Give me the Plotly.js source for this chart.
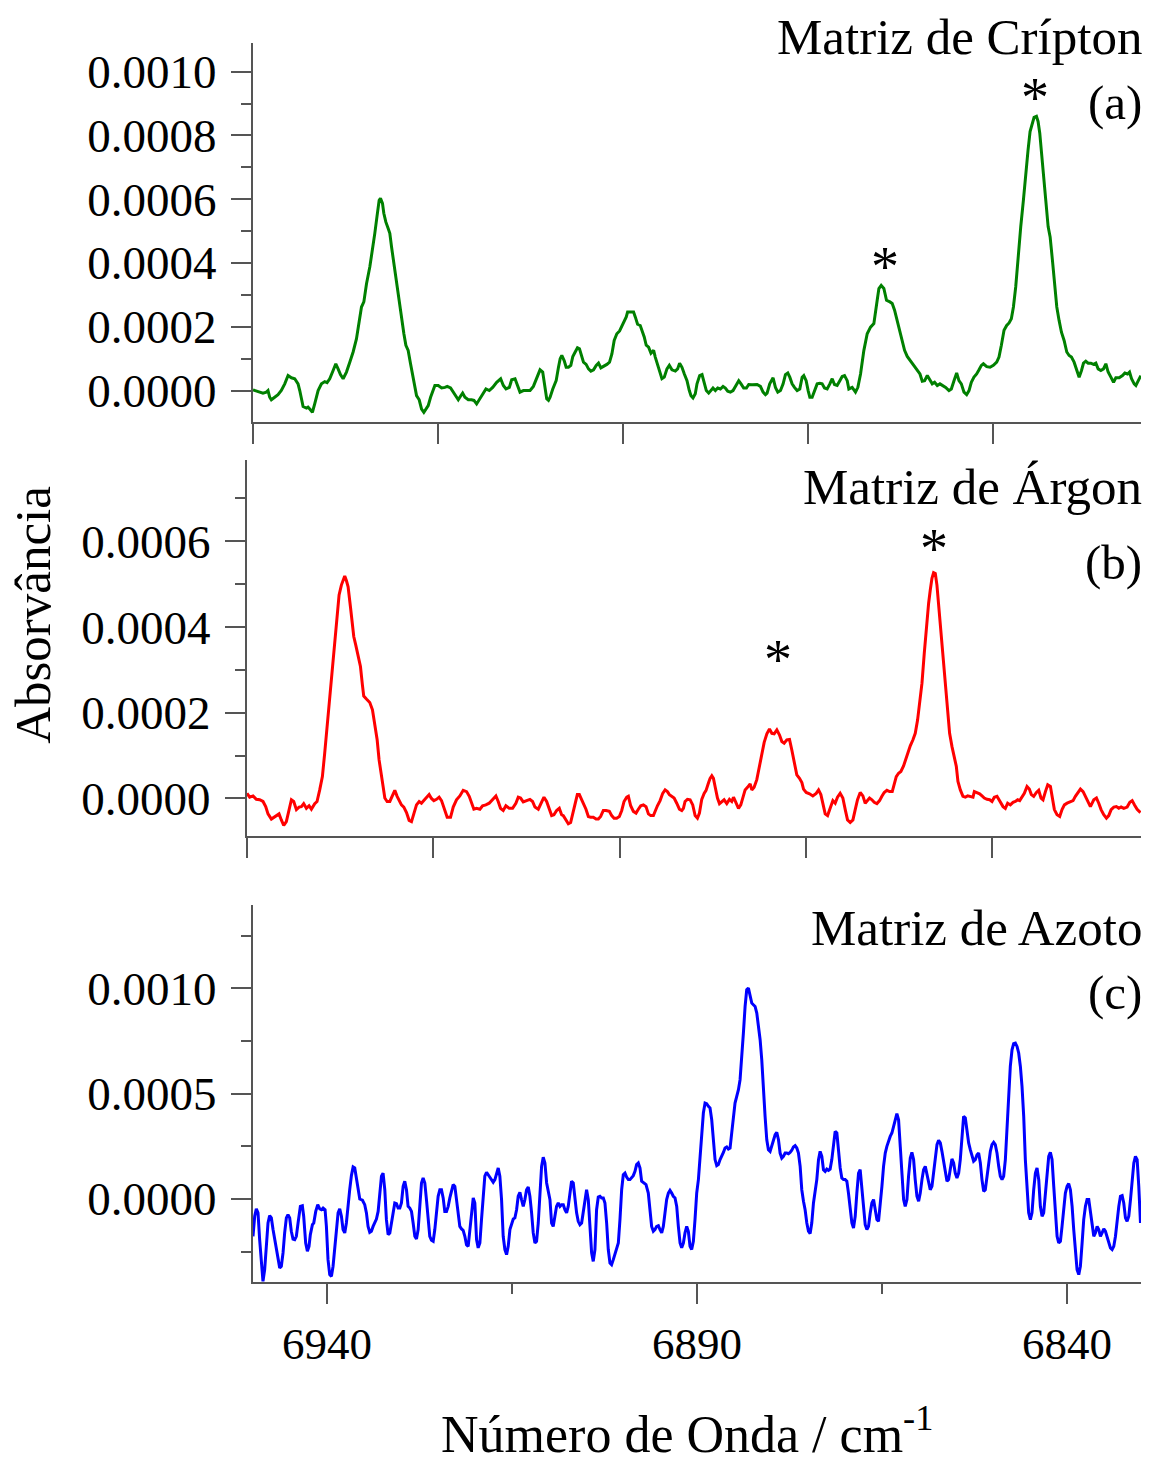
<!DOCTYPE html>
<html>
<head>
<meta charset="utf-8">
<script src="https://cdn.plot.ly/plotly-3.0.1.min.js"></script>
<style>html,body{margin:0;padding:0;background:#fff;}#chart{width:1152px;height:1465px;}</style>
</head>
<body>
<div id="chart"></div>
<script>
// ---------- DATA ----------
const kryptonWavenumber = [6950.00,6949.32,6948.65,6948.20,6947.97,6947.74,6947.52,6947.07,6946.62,6946.17,6945.71,6945.26,6944.81,6944.36,6943.91,6943.68,6943.23,6942.78,6942.56,6942.33,6941.97,6941.66,6941.20,6940.75,6940.30,6939.99,6939.63,6939.17,6938.81,6938.50,6938.18,6937.82,6937.37,6936.92,6936.47,6936.02,6935.57,6935.34,6935.02,6934.66,6934.21,6933.85,6933.54,6933.22,6932.95,6932.77,6932.50,6932.32,6932.05,6931.73,6931.51,6931.28,6930.97,6930.60,6930.24,6929.93,6929.61,6929.34,6929.03,6928.71,6928.44,6928.12,6927.90,6927.54,6927.22,6926.91,6926.64,6926.32,6926.00,6925.73,6925.42,6924.97,6924.51,6924.06,6923.75,6923.30,6922.94,6922.58,6922.26,6921.94,6921.67,6921.36,6920.91,6920.46,6920.14,6919.78,6919.42,6918.97,6918.52,6918.07,6917.61,6917.07,6916.53,6916.17,6915.81,6915.36,6915.04,6914.59,6914.28,6913.92,6913.46,6912.56,6912.11,6911.66,6911.21,6910.85,6910.53,6910.31,
6910.07,6909.85,6909.49,6909.03,6908.72,6908.49,6908.27,6907.95,6907.68,6907.37,6907.05,6906.78,6906.46,6906.15,6905.88,6905.56,6905.34,6904.98,6904.66,6904.34,6903.98,6903.62,6903.31,6902.99,6902.63,6902.18,6901.82,6901.50,6901.19,6900.83,6900.46,6900.15,6899.83,6899.56,6899.38,6899.02,6898.57,6898.34,6898.03,6897.67,6897.44,6897.13,6896.86,6896.54,6896.22,6895.86,6895.64,6895.32,6895.05,6894.74,6894.42,6894.06,6893.74,6893.38,6892.93,6892.62,6892.35,6892.03,6891.71,6891.35,6891.04,6890.81,6890.54,6890.23,6890.00,6889.64,6889.32,6889.10,6888.74,6888.42,6888.11,6887.84,6887.52,6887.20,6886.84,6886.48,6886.17,6885.85,6885.49,6885.13,6884.81,6884.36,6884.05,6883.69,6883.32,6883.01,6882.56,6881.88,6881.43,6881.07,6880.75,6880.53,6880.17,6879.72,6879.40,6879.08,6878.72,6878.36,6878.05,6877.73,6877.46,6877.15,6876.83,6876.47,6876.11,6875.79,6875.57,6875.25,6874.98,6874.75,6874.44,6874.12,6873.76,6873.40,6873.09,6872.77,6872.41,6872.05,6871.73,6871.42,6871.06,6870.70,6870.38,6870.06,6869.70,
6869.48,6869.03,6868.58,6868.26,6867.90,6867.45,6867.00,6866.55,6866.10,6865.87,6865.65,6865.42,6865.11,6864.75,6864.39,6863.93,6863.62,6863.30,6862.94,6862.58,6862.27,6861.95,6861.59,6861.23,6860.91,6860.60,6860.24,6859.87,6859.56,6859.24,6858.88,6858.52,6858.21,6857.89,6857.53,6857.17,6856.85,6856.40,6855.95,6855.63,6855.27,6854.91,6854.60,6854.28,6853.92,6853.56,6853.24,6852.93,6852.57,6852.21,6851.89,6851.57,6851.30,6850.85,6850.40,6849.95,6849.50,6849.19,6848.87,6848.51,6848.15,6847.83,6847.52,6847.24,6846.93,6846.61,6846.25,6845.89,6845.58,6845.26,6844.99,6844.68,6844.45,6844.13,6843.91,6843.68,6843.46,6843.19,6842.87,6842.55,6842.28,6841.97,6841.65,6841.38,6841.07,6840.75,6840.39,6840.03,6839.71,6839.40,6839.04,6838.68,6838.36,6838.04,6837.77,6837.46,6837.14,6836.78,6836.42,6836.10,6835.79,6835.43,6835.07,6834.75,6834.44,6834.07,6833.71,6833.40,6832.95,6832.50,6832.18,6831.82,6831.55,6831.28,6830.92,6830.69,6830.38,6830.02];
const kryptonAbsorbance = [0.02e-4,-0.02e-4,-0.08e-4,-0.05e-4,0,-0.21e-4,-0.29e-4,-0.21e-4,-0.13e-4,0,0.21e-4,0.47e-4,0.40e-4,0.37e-4,0.21e-4,0,-0.50e-4,-0.55e-4,-0.52e-4,-0.58e-4,-0.68e-4,-0.42e-4,0,0.21e-4,0.28e-4,0.25e-4,0.37e-4,0.63e-4,0.84e-4,0.68e-4,0.50e-4,0.37e-4,0.58e-4,0.89e-4,1.21e-4,1.62e-4,2.20e-4,2.62e-4,2.78e-4,3.35e-4,3.88e-4,4.40e-4,4.93e-4,5.50e-4,5.97e-4,6.03e-4,5.87e-4,5.56e-4,5.29e-4,5.08e-4,4.93e-4,4.51e-4,3.98e-4,3.35e-4,2.83e-4,2.25e-4,1.78e-4,1.42e-4,1.26e-4,0.84e-4,0.52e-4,0.10e-4,-0.16e-4,-0.29e-4,-0.58e-4,-0.68e-4,-0.58e-4,-0.47e-4,-0.21e-4,0,0.16e-4,0.16e-4,0.08e-4,0.10e-4,0.13e-4,0.08e-4,-0.05e-4,-0.21e-4,-0.29e-4,-0.17e-4,-0.08e-4,-0.21e-4,-0.29e-4,-0.29e-4,-0.31e-4,-0.42e-4,-0.29e-4,-0.10e-4,0.05e-4,0,0.10e-4,0.26e-4,0.37e-4,0.16e-4,0.05e-4,0.10e-4,0.34e-4,0.37e-4,0.16e-4,-0.05e-4,0,0,0.13e-4,0.42e-4,0.65e-4,0.58e-4,0,-0.26e-4,
-0.31e-4,-0.21e-4,0.05e-4,0.31e-4,0.73e-4,1.00e-4,1.10e-4,0.94e-4,0.73e-4,0.73e-4,0.79e-4,1.07e-4,1.21e-4,1.34e-4,1.31e-4,1.10e-4,0.89e-4,0.82e-4,0.68e-4,0.61e-4,0.65e-4,0.79e-4,0.86e-4,0.71e-4,0.75e-4,0.82e-4,0.89e-4,1.15e-4,1.57e-4,1.78e-4,1.87e-4,2.01e-4,2.15e-4,2.31e-4,2.46e-4,2.46e-4,2.46e-4,2.31e-4,2.08e-4,2.04e-4,1.89e-4,1.68e-4,1.42e-4,1.36e-4,1.17e-4,1.26e-4,1.05e-4,0.79e-4,0.58e-4,0.37e-4,0.42e-4,0.68e-4,0.79e-4,0.65e-4,0.61e-4,0.68e-4,0.86e-4,0.73e-4,0.52e-4,0.31e-4,0,-0.16e-4,-0.23e-4,-0.10e-4,0.21e-4,0.47e-4,0.50e-4,0.31e-4,0,-0.08e-4,0,0.08e-4,0,0.08e-4,0.05e-4,0.13e-4,0.08e-4,-0.02e-4,-0.05e-4,0,0.13e-4,0.31e-4,0.21e-4,0.08e-4,0.08e-4,0.19e-4,0.18e-4,0.19e-4,0.13e-4,-0.05e-4,-0.13e-4,-0.08e-4,0.21e-4,0.40e-4,0.10e-4,-0.05e-4,0,0.21e-4,0.50e-4,0.55e-4,0.42e-4,0.21e-4,0.10e-4,0,0.05e-4,0.42e-4,0.47e-4,0.31e-4,0,-0.21e-4,-0.21e-4,0,0.21e-4,0.23e-4,0.21e-4,0.08e-4,0.05e-4,0.21e-4,0.37e-4,0.19e-4,0.16e-4,0.31e-4,0.44e-4,0.47e-4,0.31e-4,
0.05e-4,0.10e-4,-0.05e-4,0.10e-4,0.52e-4,1.26e-4,1.78e-4,1.99e-4,2.10e-4,2.41e-4,2.83e-4,3.20e-4,3.30e-4,3.20e-4,2.83e-4,2.78e-4,2.73e-4,2.52e-4,2.20e-4,1.89e-4,1.57e-4,1.26e-4,1.07e-4,0.96e-4,0.84e-4,0.73e-4,0.63e-4,0.52e-4,0.29e-4,0.31e-4,0.47e-4,0.31e-4,0.21e-4,0.26e-4,0.16e-4,0.21e-4,0.16e-4,0.10e-4,0,0.05e-4,0.31e-4,0.55e-4,0.31e-4,0.21e-4,-0.05e-4,-0.13e-4,0,0.26e-4,0.42e-4,0.52e-4,0.65e-4,0.79e-4,0.84e-4,0.75e-4,0.73e-4,0.79e-4,0.89e-4,1.05e-4,1.42e-4,1.89e-4,2.04e-4,2.12e-4,2.25e-4,2.62e-4,3.25e-4,4.19e-4,5.14e-4,5.97e-4,6.81e-4,7.55e-4,8.12e-4,8.44e-4,8.57e-4,8.60e-4,8.44e-4,8.07e-4,7.55e-4,6.81e-4,5.97e-4,5.14e-4,4.82e-4,4.09e-4,3.25e-4,2.62e-4,2.20e-4,1.83e-4,1.57e-4,1.21e-4,1.10e-4,1.05e-4,0.89e-4,0.63e-4,0.42e-4,0.63e-4,0.86e-4,0.92e-4,0.86e-4,0.86e-4,0.82e-4,0.86e-4,0.68e-4,0.63e-4,0.68e-4,0.84e-4,0.58e-4,0.42e-4,0.26e-4,0.40e-4,0.40e-4,0.47e-4,0.55e-4,0.52e-4,0.58e-4,0.37e-4,0.21e-4,0.16e-4,0.31e-4,0.47e-4];

const argonWavenumber = [6950.00,6949.64,6949.19,6948.75,6948.30,6947.85,6947.49,6947.18,6946.73,6946.42,6946.06,6945.70,6945.39,6945.07,6944.72,6944.36,6944.04,6943.73,6943.37,6943.01,6942.70,6942.39,6942.03,6941.67,6941.36,6940.91,6940.60,6940.24,6939.88,6939.57,6939.25,6938.89,6938.54,6938.22,6937.91,6937.64,6937.33,6937.10,6936.88,6936.65,6936.43,6936.12,6935.85,6935.67,6935.40,6935.09,6934.77,6934.51,6934.33,6933.97,6933.52,6933.16,6932.85,6932.53,6932.27,6931.95,6931.73,6931.50,6931.19,6930.83,6930.47,6930.16,6929.85,6929.58,6929.27,6928.95,6928.59,6928.24,6927.92,6927.61,6927.25,6926.89,6926.58,6926.27,6925.91,6925.55,6925.24,6924.92,6924.56,6924.21,6923.89,6923.44,6923.13,6922.68,6922.32,6921.88,6921.43,6920.98,6920.53,6920.17,6919.86,6919.55,6919.19,6918.74,6918.38,6917.94,6917.49,6917.04,6916.59,6916.28,6915.97,6915.61,6915.25,6914.80,6914.35,6913.91,6913.59,6913.28,6912.92,6912.47,6912.02,6911.67,6911.35,6910.90,
6910.45,6910.14,6909.78,6909.42,6909.11,6908.80,6908.44,6908.08,6907.77,6907.54,6907.18,6906.87,6906.56,6906.29,6905.97,6905.66,6905.39,6905.08,6904.77,6904.50,6904.18,6903.87,6903.51,6903.15,6902.84,6902.53,6902.17,6901.81,6901.36,6901.05,6900.73,6900.38,6900.02,6899.70,6899.39,6899.03,6898.81,6898.50,6898.14,6897.78,6897.47,6897.15,6896.79,6896.44,6896.12,6895.81,6895.45,6895.23,6894.91,6894.55,6894.20,6893.88,6893.57,6893.30,6892.99,6892.67,6892.32,6891.96,6891.64,6891.42,6891.20,6890.88,6890.52,6890.17,6889.85,6889.54,6889.27,6888.96,6888.64,6888.38,6888.06,6887.84,6887.61,6887.39,6887.17,6886.85,6886.58,6886.27,6885.96,6885.60,6885.24,6884.93,6884.70,6884.34,6884.03,6883.72,6883.36,6883.14,6882.82,6882.46,6882.24,6881.93,6881.57,6881.21,6880.90,6880.58,6880.22,6879.87,6879.55,6879.24,6878.88,6878.52,6878.21,6877.90,6877.54,6877.18,6876.87,6876.55,6876.20,6875.84,6875.52,6875.30,6874.94,6874.49,6874.05,6873.60,6873.28,6872.97,6872.70,6872.39,6872.07,6871.72,6871.36,6871.05,6870.74,6870.38,
6870.02,6869.70,6869.39,6869.03,6868.67,6868.36,6868.05,6867.69,6867.33,6867.02,6866.70,6866.44,6866.12,6865.81,6865.45,6865.09,6864.78,6864.47,6864.11,6863.75,6863.39,6863.12,6862.85,6862.54,6862.23,6861.87,6861.51,6861.20,6860.97,6860.61,6860.30,6859.99,6859.72,6859.40,6859.09,6858.82,6858.51,6858.29,6858.06,6857.84,6857.61,6857.39,6857.17,6856.85,6856.58,6856.27,6855.96,6855.69,6855.37,6855.06,6854.79,6854.57,6854.25,6853.90,6853.58,6853.27,6852.91,6852.55,6852.37,6852.02,6851.66,6851.34,6851.03,6850.67,6850.31,6850.00,6849.69,6849.33,6849.11,6848.88,6848.52,6848.21,6847.90,6847.54,6847.18,6846.87,6846.55,6846.28,6845.97,6845.66,6845.30,6844.99,6844.72,6844.40,6844.04,6843.73,6843.42,6843.15,6842.83,6842.52,6842.16,6841.94,6841.63,6841.27,6840.91,6840.60,6840.28,6839.92,6839.57,6839.12,6838.81,6838.49,6838.13,6837.77,6837.46,6837.15,6836.79,6836.34,6835.98,6835.67,6835.36,6835.00,6834.64,6834.33,6834.01,6833.65,6833.30,6832.98,6832.67,6832.31,6831.86,6831.50,6831.18,6830.87,6830.52,6830.07];
const argonAbsorbance = [0.12e-4,0.03e-4,0.06e-4,-0.02e-4,-0.03e-4,-0.07e-4,-0.19e-4,-0.36e-4,-0.48e-4,-0.44e-4,-0.40e-4,-0.36e-4,-0.50e-4,-0.63e-4,-0.54e-4,-0.26e-4,-0.03e-4,-0.07e-4,-0.26e-4,-0.20e-4,-0.19e-4,-0.12e-4,-0.23e-4,-0.17e-4,-0.25e-4,-0.12e-4,-0.07e-4,0.20e-4,0.51e-4,1.06e-4,1.68e-4,2.30e-4,3.00e-4,3.70e-4,4.32e-4,4.75e-4,4.98e-4,5.10e-4,5.19e-4,5.08e-4,4.94e-4,4.48e-4,4.05e-4,3.78e-4,3.58e-4,3.31e-4,3.08e-4,2.65e-4,2.39e-4,2.32e-4,2.24e-4,2.07e-4,1.76e-4,1.37e-4,0.90e-4,0.59e-4,0.28e-4,0.01e-4,-0.07e-4,-0.07e-4,0.06e-4,0.19e-4,0.05e-4,-0.05e-4,-0.15e-4,-0.20e-4,-0.33e-4,-0.51e-4,-0.54e-4,-0.36e-4,-0.15e-4,-0.07e-4,-0.11e-4,-0.05e-4,0.03e-4,0.09e-4,0,-0.05e-4,-0.02e-4,0.03e-4,-0.05e-4,-0.30e-4,-0.44e-4,-0.44e-4,-0.20e-4,-0.03e-4,0.06e-4,0.19e-4,0.16e-4,0.05e-4,-0.11e-4,-0.25e-4,-0.23e-4,-0.25e-4,-0.17e-4,-0.15e-4,-0.11e-4,-0.03e-4,0.06e-4,-0.07e-4,-0.23e-4,-0.28e-4,-0.17e-4,-0.23e-4,-0.23e-4,-0.11e-4,0.03e-4,0.01e-4,-0.08e-4,-0.05e-4,-0.02e-4,-0.07e-4,-0.20e-4,-0.25e-4,
-0.07e-4,0.03e-4,-0.07e-4,-0.26e-4,-0.40e-4,-0.38e-4,-0.28e-4,-0.23e-4,-0.38e-4,-0.40e-4,-0.50e-4,-0.59e-4,-0.56e-4,-0.36e-4,-0.11e-4,0.09e-4,0.09e-4,-0.03e-4,-0.17e-4,-0.25e-4,-0.42e-4,-0.44e-4,-0.44e-4,-0.48e-4,-0.48e-4,-0.42e-4,-0.28e-4,-0.28e-4,-0.30e-4,-0.40e-4,-0.46e-4,-0.46e-4,-0.42e-4,-0.28e-4,-0.07e-4,0.03e-4,0.05e-4,-0.17e-4,-0.30e-4,-0.34e-4,-0.25e-4,-0.17e-4,-0.15e-4,-0.19e-4,-0.36e-4,-0.40e-4,-0.40e-4,-0.30e-4,-0.17e-4,-0.05e-4,0.12e-4,0.20e-4,0.16e-4,0.09e-4,0.06e-4,0.01e-4,-0.11e-4,-0.25e-4,-0.28e-4,-0.23e-4,-0.07e-4,-0.02e-4,-0.03e-4,-0.15e-4,-0.40e-4,-0.46e-4,-0.34e-4,-0.02e-4,0.12e-4,0.19e-4,0.36e-4,0.47e-4,0.53e-4,0.47e-4,0.28e-4,0.01e-4,-0.12e-4,-0.07e-4,-0.03e-4,-0.12e-4,-0.02e-4,-0.07e-4,0.03e-4,-0.11e-4,-0.23e-4,-0.15e-4,0.06e-4,0.20e-4,0.26e-4,0.34e-4,0.20e-4,0.26e-4,0.44e-4,0.75e-4,1.06e-4,1.31e-4,1.51e-4,1.62e-4,1.52e-4,1.51e-4,1.60e-4,1.48e-4,1.33e-4,1.29e-4,1.37e-4,1.38e-4,1.13e-4,0.86e-4,0.55e-4,0.47e-4,0.37e-4,0.22e-4,0.14e-4,0.11e-4,0.06e-4,0.12e-4,0.20e-4,0.09e-4,-0.12e-4,-0.36e-4,-0.40e-4,-0.23e-4,-0.05e-4,-0.11e-4,0.03e-4,0.12e-4,
0.01e-4,-0.26e-4,-0.50e-4,-0.56e-4,-0.50e-4,-0.26e-4,-0.03e-4,0.14e-4,0.06e-4,-0.11e-4,-0.03e-4,0.01e-4,-0.03e-4,-0.09e-4,-0.12e-4,-0.05e-4,0.05e-4,0.14e-4,0.19e-4,0.16e-4,0.16e-4,0.36e-4,0.51e-4,0.59e-4,0.63e-4,0.76e-4,0.94e-4,1.13e-4,1.23e-4,1.37e-4,1.52e-4,1.83e-4,2.18e-4,2.69e-4,3.39e-4,4.01e-4,4.55e-4,4.86e-4,5.14e-4,5.27e-4,5.25e-4,4.98e-4,4.55e-4,3.93e-4,3.23e-4,2.61e-4,2.07e-4,1.52e-4,1.21e-4,0.98e-4,0.75e-4,0.40e-4,0.20e-4,0.05e-4,0.03e-4,0.06e-4,0.05e-4,0.03e-4,0.16e-4,0.14e-4,0.11e-4,0.06e-4,0.01e-4,-0.02e-4,-0.03e-4,-0.07e-4,0.03e-4,0.05e-4,-0.02e-4,-0.11e-4,-0.19e-4,-0.23e-4,-0.11e-4,-0.15e-4,-0.09e-4,-0.07e-4,-0.03e-4,-0.05e-4,0.05e-4,0.12e-4,0.28e-4,0.22e-4,0.09e-4,0.05e-4,0.14e-4,0.19e-4,0.01e-4,-0.03e-4,0.16e-4,0.32e-4,0.28e-4,0.01e-4,-0.26e-4,-0.38e-4,-0.42e-4,-0.26e-4,-0.15e-4,-0.11e-4,-0.09e-4,-0.05e-4,0.05e-4,0.14e-4,0.22e-4,0.16e-4,0.05e-4,-0.07e-4,-0.19e-4,-0.03e-4,0.01e-4,-0.11e-4,-0.26e-4,-0.38e-4,-0.46e-4,-0.40e-4,-0.26e-4,-0.20e-4,-0.19e-4,-0.23e-4,-0.20e-4,-0.23e-4,-0.20e-4,-0.09e-4,-0.05e-4,-0.15e-4,-0.25e-4,-0.33e-4];

const nitrogenWavenumber = [6950.00,6949.77,6949.55,6949.32,6949.10,6948.87,6948.65,6948.42,6948.20,6947.97,6947.75,6947.52,6947.29,6947.07,6946.84,6946.62,6946.39,6946.17,6945.94,6945.72,6945.49,6945.27,6945.04,6944.82,6944.59,6944.36,6944.14,6943.91,6943.60,6943.33,6943.15,6942.88,6942.65,6942.43,6942.25,6941.97,6941.79,6941.52,6941.25,6940.98,6940.76,6940.53,6940.26,6940.08,6939.86,6939.63,6939.40,6939.18,6938.95,6938.73,6938.50,6938.28,6938.05,6937.83,6937.60,6937.38,6937.15,6936.93,6936.70,6936.47,6936.25,6936.02,6935.80,6935.57,6935.21,6934.90,6934.67,6934.45,6934.22,6934.00,6933.77,6933.54,6933.32,6933.09,6932.87,6932.64,6932.42,6932.19,6931.97,6931.74,6931.51,6931.29,6931.06,6930.84,6930.61,6930.39,6930.16,6929.94,6929.71,6929.49,6929.26,6929.04,6928.81,6928.58,6928.36,6928.13,6927.91,6927.68,6927.46,6927.23,6927.01,6926.78,6926.56,6926.33,6926.11,6925.88,6925.65,6925.43,6925.20,6924.98,6924.75,6924.53,6924.30,6924.08,6923.85,6923.62,6923.40,6923.17,6922.95,6922.72,6922.50,6922.27,6922.05,6921.82,6921.60,6921.37,6921.15,6920.92,6920.69,6920.47,6920.24,6920.02,6919.79,6919.57,6919.34,6919.12,6918.89,6918.67,6918.44,6918.21,6917.99,6917.76,6917.54,6917.31,6917.09,6916.86,6916.64,6916.41,6916.19,6915.96,6915.73,6915.51,6915.28,6915.06,6914.83,6914.61,6914.38,6914.16,6913.93,6913.71,6913.48,6913.26,6913.03,6912.80,6912.58,6912.35,6912.13,6911.90,6911.68,6911.45,6911.23,6911.00,6910.78,6910.55,6910.32,6910.10,6909.87,
6909.65,6909.43,6909.20,6908.98,6908.75,6908.52,6908.30,6908.07,6907.85,6907.62,6907.40,6907.17,6906.95,6906.72,6906.50,6906.27,6906.05,6905.82,6905.59,6905.37,6905.14,6904.92,6904.69,6904.47,6904.24,6904.02,6903.79,6903.57,6903.34,6903.11,6902.89,6902.66,6902.44,6902.21,6901.99,6901.76,6901.54,6901.31,6901.09,6900.86,6900.63,6900.41,6900.18,6899.96,6899.73,6899.51,6899.28,6899.06,6898.83,6898.61,6898.38,6898.16,6897.93,6897.70,6897.48,6897.25,6896.89,6896.58,6896.35,6896.13,6895.90,6895.68,6895.45,6895.22,6895.00,6894.77,6894.55,6894.32,6894.10,6893.87,6893.65,6893.42,6893.20,6892.97,6892.74,6892.52,6892.29,6892.07,6891.84,6891.62,6891.39,6891.17,6890.94,6890.72,6890.49,6890.27,6890.04,6889.81,6889.59,6889.36,6889.14,6888.91,6888.69,6888.46,6888.24,6888.01,6887.79,6887.56,6887.33,6887.11,6886.88,6886.66,6886.43,6886.21,6885.98,6885.76,6885.53,6885.31,6885.08,6884.86,6884.63,6884.40,6884.18,6883.95,6883.73,6883.50,6883.28,6883.05,6882.83,6882.60,6882.38,6882.15,6881.92,6881.70,6881.47,6881.25,6881.02,6880.80,6880.57,6880.35,6880.12,6879.90,6879.67,6879.44,6879.22,6878.99,6878.77,6878.54,6878.32,6878.09,6877.87,6877.64,6877.42,6877.19,6876.97,6876.74,6876.51,6876.29,6876.06,6875.84,6875.61,6875.39,6875.16,6874.94,6874.71,6874.49,6874.26,6874.03,6873.81,6873.58,6873.36,6873.13,6872.91,6872.68,6872.46,6872.23,6872.01,6871.78,6871.55,6871.33,6871.10,6870.88,6870.65,6870.43,6870.20,6869.98,6869.75,6869.53,6869.30,
6869.07,6868.85,6868.62,6868.40,6868.17,6867.95,6867.72,6867.49,6867.27,6867.04,6866.82,6866.59,6866.37,6866.14,6865.92,6865.69,6865.47,6865.24,6865.01,6864.79,6864.56,6864.34,6864.11,6863.89,6863.66,6863.44,6863.21,6862.99,6862.76,6862.53,6862.31,6862.08,6861.86,6861.63,6861.41,6861.18,6860.96,6860.73,6860.51,6860.28,6860.05,6859.83,6859.60,6859.38,6859.15,6858.93,6858.70,6858.48,6858.25,6858.03,6857.80,6857.57,6857.35,6857.12,6856.90,6856.67,6856.45,6856.22,6856.00,6855.77,6855.55,6855.32,6855.10,6854.87,6854.64,6854.42,6854.19,6853.97,6853.74,6853.52,6853.29,6853.07,6852.84,6852.62,6852.39,6852.16,6851.94,6851.71,6851.49,6851.26,6851.04,6850.81,6850.59,6850.36,6850.14,6849.91,6849.69,6849.46,6849.23,6849.01,6848.78,6848.56,6848.33,6848.11,6847.88,6847.66,6847.43,6847.21,6846.98,6846.75,6846.53,6846.30,6846.08,6845.85,6845.63,6845.40,6845.18,6844.95,6844.73,6844.50,6844.27,6844.05,6843.82,6843.60,6843.37,6843.15,6842.92,6842.70,6842.47,6842.25,6842.02,6841.79,6841.57,6841.34,6841.12,6840.89,6840.67,6840.44,6840.22,6839.99,6839.77,6839.54,6839.31,6839.09,6838.86,6838.64,6838.41,6838.19,6837.96,6837.74,6837.51,6837.29,6837.06,6836.83,6836.61,6836.38,6836.16,6835.93,6835.71,6835.48,6835.26,6835.03,6834.81,6834.58,6834.36,6834.13,6833.90,6833.68,6833.45,6833.23,6833.00,6832.78,6832.55,6832.33,6832.10,6831.88,6831.65,6831.42,6831.20,6830.97,6830.75,6830.52,6830.30,6830.07];
const nitrogenAbsorbance = [-1.77e-4,-0.82e-4,-0.47e-4,-0.66e-4,-1.93e-4,-3.04e-4,-3.91e-4,-3.35e-4,-2.09e-4,-1.14e-4,-0.79e-4,-0.90e-4,-1.45e-4,-1.93e-4,-2.40e-4,-2.96e-4,-3.27e-4,-3.19e-4,-2.56e-4,-1.61e-4,-0.90e-4,-0.74e-4,-0.90e-4,-1.53e-4,-1.90e-4,-1.93e-4,-1.77e-4,-1.14e-4,-0.35e-4,-0.32e-4,-0.82e-4,-2.09e-4,-2.48e-4,-2.25e-4,-1.69e-4,-1.22e-4,-1.14e-4,-0.59e-4,-0.27e-4,-0.47e-4,-0.51e-4,-0.43e-4,-0.51e-4,-1.30e-4,-2.88e-4,-3.59e-4,-3.67e-4,-3.19e-4,-2.40e-4,-1.61e-4,-0.66e-4,-0.47e-4,-0.82e-4,-1.45e-4,-1.61e-4,-1.14e-4,-0.19e-4,0.44e-4,1.11e-4,1.52e-4,1.47e-4,0.92e-4,0.44e-4,0,-0.06e-4,-0.27e-4,-0.66e-4,-1.30e-4,-1.58e-4,-1.53e-4,-1.30e-4,-1.14e-4,-0.95e-4,-0.59e-4,0.36e-4,1.08e-4,1.23e-4,0.44e-4,-0.98e-4,-1.69e-4,-1.61e-4,-1.14e-4,-0.66e-4,-0.19e-4,-0.22e-4,-0.43e-4,-0.43e-4,-0.19e-4,0.60e-4,0.84e-4,0.44e-4,-0.35e-4,-0.43e-4,-0.59e-4,-1.14e-4,-1.77e-4,-1.90e-4,-1.45e-4,-0.35e-4,0.76e-4,1.00e-4,0.76e-4,-0.03e-4,-0.98e-4,-1.77e-4,-1.96e-4,-2.01e-4,-1.45e-4,-0.66e-4,0.13e-4,0.44e-4,0.44e-4,0.05e-4,-0.59e-4,-0.59e-4,-0.35e-4,0.05e-4,0.36e-4,0.68e-4,0.60e-4,-0.03e-4,-0.90e-4,-1.30e-4,-1.42e-4,-1.49e-4,-1.77e-4,-2.17e-4,-2.25e-4,-1.45e-4,-0.66e-4,0.05e-4,-0.19e-4,-1.93e-4,-2.32e-4,-2.09e-4,-0.98e-4,0.28e-4,1.08e-4,1.27e-4,1.15e-4,1.04e-4,0.92e-4,0.79e-4,0.92e-4,1.23e-4,1.47e-4,1.08e-4,-0.03e-4,-1.77e-4,-2.40e-4,-2.64e-4,-2.25e-4,-1.45e-4,-1.14e-4,-0.95e-4,-0.90e-4,-0.51e-4,0.13e-4,0.32e-4,-0.03e-4,-0.35e-4,-0.03e-4,0.44e-4,0.57e-4,0.13e-4,-0.66e-4,-1.61e-4,-2.09e-4,-2.01e-4,-1.14e-4,0.28e-4,1.55e-4,1.98e-4,1.71e-4,0.76e-4,0.44e-4,-0.03e-4,
-1.14e-4,-1.30e-4,-0.82e-4,-0.35e-4,-0.19e-4,-0.35e-4,-0.27e-4,-0.27e-4,-0.51e-4,-0.66e-4,-0.35e-4,0.44e-4,0.84e-4,0.76e-4,-0.03e-4,-0.66e-4,-1.06e-4,-1.22e-4,-1.14e-4,-0.59e-4,0.13e-4,0.44e-4,-0.03e-4,-1.30e-4,-2.56e-4,-2.96e-4,-2.40e-4,-0.51e-4,0.09e-4,0.13e-4,0.05e-4,0.05e-4,-0.19e-4,-1.14e-4,-2.40e-4,-3.04e-4,-3.12e-4,-2.88e-4,-2.64e-4,-2.40e-4,-2.09e-4,-0.98e-4,0.44e-4,1.15e-4,1.23e-4,1.04e-4,0.92e-4,0.92e-4,1.00e-4,1.11e-4,1.31e-4,1.63e-4,1.71e-4,1.47e-4,0.84e-4,0.76e-4,0.68e-4,0.28e-4,-0.66e-4,-1.30e-4,-1.53e-4,-1.45e-4,-1.30e-4,-1.27e-4,-1.45e-4,-1.61e-4,-1.30e-4,-0.66e-4,-0.03e-4,0.28e-4,0.41e-4,0.28e-4,0.13e-4,0.05e-4,-0.35e-4,-1.30e-4,-2.09e-4,-2.32e-4,-2.09e-4,-1.61e-4,-1.30e-4,-1.53e-4,-2.25e-4,-2.40e-4,-2.01e-4,-0.98e-4,0.28e-4,0.92e-4,1.87e-4,2.97e-4,4.08e-4,4.55e-4,4.52e-4,4.40e-4,4.32e-4,3.76e-4,2.81e-4,1.87e-4,1.58e-4,1.63e-4,1.87e-4,2.02e-4,2.21e-4,2.42e-4,2.47e-4,2.37e-4,2.42e-4,3.13e-4,3.76e-4,4.55e-4,4.87e-4,5.19e-4,5.66e-4,6.61e-4,7.87e-4,9.14e-4,9.93e-4,10.01e-4,9.61e-4,9.30e-4,9.22e-4,9.14e-4,8.82e-4,8.19e-4,7.56e-4,6.61e-4,5.03e-4,3.92e-4,2.81e-4,2.34e-4,2.26e-4,2.50e-4,2.81e-4,3.05e-4,3.16e-4,2.81e-4,2.18e-4,1.94e-4,2.02e-4,2.18e-4,2.18e-4,2.15e-4,2.21e-4,2.31e-4,2.47e-4,2.53e-4,2.42e-4,2.18e-4,1.55e-4,0.44e-4,-0.11e-4,-0.51e-4,-1.14e-4,-1.53e-4,-1.64e-4,-1.14e-4,-0.19e-4,0.28e-4,0.92e-4,1.87e-4,2.26e-4,2.02e-4,1.39e-4,1.31e-4,1.42e-4,1.36e-4,1.42e-4,1.87e-4,2.74e-4,3.21e-4,3.13e-4,2.26e-4,1.47e-4,1.00e-4,0.92e-4,0.92e-4,0.84e-4,0.28e-4,-0.51e-4,
-1.14e-4,-1.38e-4,-0.82e-4,0.28e-4,1.23e-4,1.39e-4,0.60e-4,-0.51e-4,-1.22e-4,-1.45e-4,-1.30e-4,-0.66e-4,-0.19e-4,-0.03e-4,-0.43e-4,-0.98e-4,-1.06e-4,-0.35e-4,0.60e-4,1.55e-4,2.18e-4,2.50e-4,2.81e-4,2.97e-4,3.13e-4,3.45e-4,3.84e-4,4.05e-4,3.76e-4,2.50e-4,1.08e-4,-0.03e-4,-0.35e-4,-0.03e-4,1.08e-4,1.94e-4,2.21e-4,1.87e-4,0.92e-4,0.13e-4,-0.11e-4,0.28e-4,0.92e-4,1.39e-4,1.55e-4,1.23e-4,0.76e-4,0.44e-4,0.60e-4,1.23e-4,2.02e-4,2.58e-4,2.78e-4,2.66e-4,2.26e-4,1.71e-4,1.15e-4,0.84e-4,0.92e-4,1.47e-4,1.90e-4,1.71e-4,1.23e-4,1.00e-4,1.23e-4,1.87e-4,2.97e-4,3.92e-4,3.84e-4,3.21e-4,2.66e-4,2.34e-4,2.02e-4,1.79e-4,1.87e-4,2.10e-4,2.18e-4,1.71e-4,0.92e-4,0.36e-4,0.44e-4,1.08e-4,1.79e-4,2.26e-4,2.58e-4,2.69e-4,2.58e-4,2.18e-4,1.55e-4,1.08e-4,0.92e-4,1.08e-4,1.87e-4,3.45e-4,5.03e-4,6.29e-4,7.08e-4,7.37e-4,7.40e-4,7.24e-4,6.93e-4,6.29e-4,5.34e-4,3.92e-4,1.87e-4,0.28e-4,-0.66e-4,-0.98e-4,-0.66e-4,0.44e-4,1.23e-4,1.47e-4,0.92e-4,-0.35e-4,-0.82e-4,-0.66e-4,0.13e-4,1.23e-4,2.02e-4,2.21e-4,1.87e-4,0.60e-4,-0.82e-4,-1.77e-4,-2.09e-4,-2.01e-4,-1.30e-4,-0.35e-4,0.28e-4,0.60e-4,0.73e-4,0.44e-4,-0.35e-4,-1.45e-4,-2.56e-4,-3.35e-4,-3.59e-4,-3.19e-4,-2.09e-4,-0.98e-4,-0.35e-4,-0.03e-4,-0.03e-4,-0.66e-4,-1.30e-4,-1.77e-4,-1.61e-4,-1.30e-4,-1.45e-4,-1.77e-4,-1.61e-4,-1.42e-4,-1.53e-4,-1.77e-4,-2.09e-4,-2.32e-4,-2.40e-4,-2.25e-4,-1.77e-4,-0.90e-4,-0.35e-4,0.13e-4,0.16e-4,-0.19e-4,-0.90e-4,-1.06e-4,-0.82e-4,-0.03e-4,0.92e-4,1.71e-4,2.02e-4,1.87e-4,0.60e-4,-1.14e-4];

// Panel texts and peak markers
const panelNames = ['Matriz de Crípton', 'Matriz de Árgon', 'Matriz de Azoto'];
const panelTags = ['(a)', '(b)', '(c)'];
const markedPeakWavenumber = [6864.61, 6844.32, 6878.67, 6857.75];
const markedPeakAbsorbance = [0.000409, 0.000938, 0.000339, 0.000599];
const markedPeakPanel = [1, 1, 2, 2];
const xAxisTitle = 'Número de Onda / cm<sup>-1</sup>';
const yAxisTitle = 'Absorvância';
const xTickValuesBottom = [6940, 6890, 6840];

// ---------- CHART ----------
const FONT = '"Liberation Serif", "Times New Roman", serif';
const AX = '#555555';

const traces = [
  {x: kryptonWavenumber, y: kryptonAbsorbance, xaxis: 'x', yaxis: 'y', type: 'scatter', mode: 'lines', line: {color: '#008000', width: 3}},
  {x: argonWavenumber, y: argonAbsorbance, xaxis: 'x2', yaxis: 'y2', type: 'scatter', mode: 'lines', line: {color: '#ff0000', width: 3}},
  {x: nitrogenWavenumber, y: nitrogenAbsorbance, xaxis: 'x3', yaxis: 'y3', type: 'scatter', mode: 'lines', line: {color: '#0000ff', width: 3}}
];

function axisBase(fs) {
  return {
    showgrid: false, zeroline: false, showline: true, linecolor: AX, linewidth: 2,
    ticks: 'outside', tickcolor: AX, tickwidth: 2, ticklen: 20,
    tickfont: {family: FONT, size: fs, color: '#000'}
  };
}
function minorTicks(d, t0) {
  const m = {dtick: d, ticklen: 10, tickcolor: AX, tickwidth: 2, ticks: 'outside', showgrid: false};
  if (t0 !== undefined) m.tick0 = t0;
  return m;
}

const xr = [6950, 6830];
const layout = {
  width: 1152, height: 1465,
  margin: {l: 247, r: 11, t: 43, b: 183},
  paper_bgcolor: '#fff', plot_bgcolor: '#fff',
  showlegend: false,
  font: {family: FONT, color: '#000'},
  xaxis: Object.assign(axisBase(45), {domain: [0.0067, 1], anchor: 'y', range: xr, tickmode: 'linear', tick0: 6950, dtick: 25, showticklabels: false}),
  xaxis2: Object.assign(axisBase(45), {domain: [0, 1], anchor: 'y2', range: xr, tickmode: 'linear', tick0: 6950, dtick: 25, showticklabels: false}),
  xaxis3: Object.assign(axisBase(45), {domain: [0.0067, 1], anchor: 'y3', range: xr, tickmode: 'array', tickvals: xTickValuesBottom, ticktext: xTickValuesBottom.map(String), ticklabelstandoff: 1, minor: minorTicks(25, 6940)}),
  yaxis: Object.assign(axisBase(47), {domain: [0.6944, 1], anchor: 'x', range: [-0.0000975, 0.00109], tickmode: 'linear', tick0: 0, dtick: 0.0002, tickformat: '.4f', ticklabelstandoff: 5, minor: minorTicks(0.0001, 0)}),
  yaxis2: Object.assign(axisBase(47), {domain: [0.3596, 0.6635], anchor: 'x2', range: [-0.0000886, 0.00079], tickmode: 'linear', tick0: 0, dtick: 0.0002, tickformat: '.4f', ticklabelstandoff: 5, minor: minorTicks(0.0001, 0)}),
  yaxis3: Object.assign(axisBase(47), {domain: [0, 0.3044], anchor: 'x3', range: [-0.000394, 0.001396], tickmode: 'linear', tick0: 0, dtick: 0.0005, tickformat: '.4f', ticklabelstandoff: 5, minor: minorTicks(0.00025, 0)}),
  annotations: []
};

const nameY = [1.0048, 0.6417, 0.2859];
const tagY = [0.9516, 0.5807, 0.2334];
for (let i = 0; i < 3; i++) {
  layout.annotations.push({text: panelNames[i], xref: 'paper', yref: 'paper', x: 1.003, y: nameY[i], xanchor: 'right', yanchor: 'middle', showarrow: false, font: {family: FONT, size: 51, color: '#000'}});
  layout.annotations.push({text: panelTags[i], xref: 'paper', yref: 'paper', x: 1.003, y: tagY[i], xanchor: 'right', yanchor: 'middle', showarrow: false, font: {family: FONT, size: 49, color: '#000'}});
}
for (let i = 0; i < markedPeakWavenumber.length; i++) {
  const p = markedPeakPanel[i];
  layout.annotations.push({text: '*', xref: p === 1 ? 'x' : 'x' + p, yref: p === 1 ? 'y' : 'y' + p, x: markedPeakWavenumber[i], y: markedPeakAbsorbance[i], xanchor: 'center', yanchor: 'middle', yshift: -7, showarrow: false, font: {family: FONT, size: 56, color: '#000'}});
}
layout.annotations.push({text: yAxisTitle, xref: 'paper', yref: 'paper', x: -0.2395, y: 0.5384, xanchor: 'center', yanchor: 'middle', textangle: -90, showarrow: false, font: {family: FONT, size: 51, color: '#000'}});
layout.annotations.push({text: xAxisTitle, xref: 'paper', yref: 'paper', x: 0.4922, y: -0.1195, xanchor: 'center', yanchor: 'middle', showarrow: false, font: {family: FONT, size: 52, color: '#000'}});

Plotly.newPlot('chart', traces, layout, {displayModeBar: false, staticPlot: true});
</script>
</body>
</html>
